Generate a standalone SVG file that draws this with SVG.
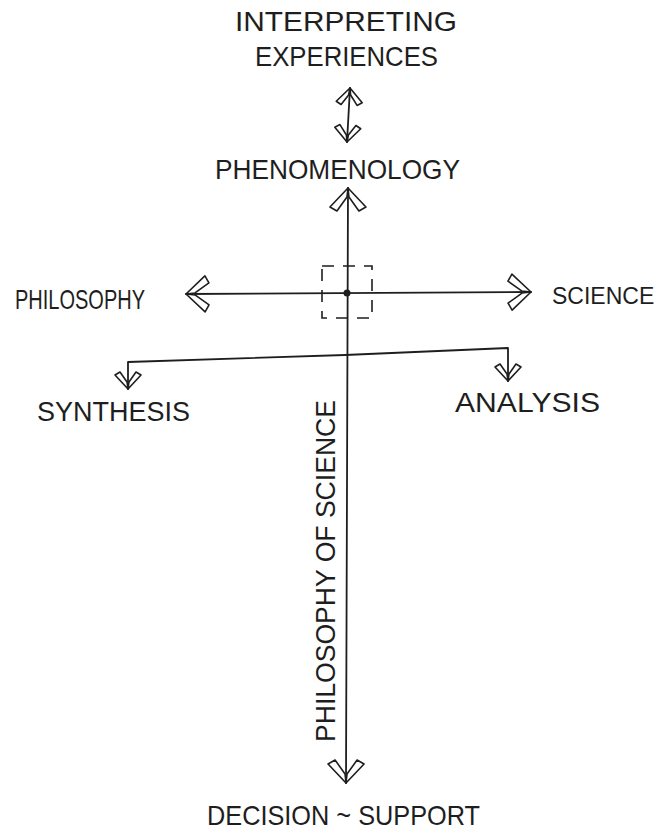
<svg xmlns="http://www.w3.org/2000/svg" width="667" height="833" viewBox="0 0 667 833">
<style>
.lbl{font-family:"Liberation Sans","DejaVu Sans",sans-serif;fill:#1e1e1e;font-size:28px}
.ln{fill:none;stroke:#1e1e1e;stroke-width:1.8;stroke-linecap:round;stroke-linejoin:round}
.ah{fill:#fff;stroke:#1e1e1e;stroke-width:1.6;stroke-linejoin:round}
</style>
<defs>
<marker id="big" markerUnits="userSpaceOnUse" viewBox="-30 -25 34 50" refX="0" refY="0" markerWidth="34" markerHeight="50" orient="auto-start-reverse" overflow="visible">
<polygon class="ah" points="0,0 -19,-18 -23,-11 -9,-1"/>
<polygon class="ah" points="0,0 -19,18 -23,11 -9,1"/>
</marker>
<marker id="small" markerUnits="userSpaceOnUse" viewBox="-30 -25 34 50" refX="0" refY="0" markerWidth="34" markerHeight="50" orient="auto-start-reverse" overflow="visible">
<polygon class="ah" points="0,0 -14,-13 -17,-8 -7,-1"/>
<polygon class="ah" points="0,0 -14,13 -17,8 -7,1"/>
</marker>
</defs>
<g id="connectors">
<path class="ln" d="M350,88 L347,142" marker-start="url(#small)" marker-end="url(#small)"/>
<path class="ln" d="M348,188 L346,783" marker-start="url(#big)" marker-end="url(#big)"/>
<path class="ln" d="M186,294 L531,292" marker-start="url(#big)" marker-end="url(#big)"/>
<path class="ln" d="M128,389 L128,362 L345,355 L508,348 L508,381" marker-start="url(#small)" marker-end="url(#small)"/>
</g>
<g id="center">
<rect x="322" y="266" width="50" height="52" fill="none" stroke="#1e1e1e" stroke-width="1.6" stroke-dasharray="12 9"/>
<circle cx="347" cy="293" r="3.5" fill="#1e1e1e"/>
</g>
<g id="interpreting-experiences">
<text class="lbl" x="235" y="31" textLength="222" lengthAdjust="spacingAndGlyphs">INTERPRETING</text>
<text class="lbl" x="255" y="66" textLength="183" lengthAdjust="spacingAndGlyphs">EXPERIENCES</text>
</g>
<g id="phenomenology">
<text class="lbl" x="215" y="179" textLength="245" lengthAdjust="spacingAndGlyphs">PHENOMENOLOGY</text>
</g>
<g id="philosophy">
<text class="lbl" x="15" y="309" textLength="130" lengthAdjust="spacingAndGlyphs">PHILOSOPHY</text>
</g>
<g id="science">
<text class="lbl" x="552" y="304" style="font-size:23px">SCIENCE</text>
</g>
<g id="synthesis">
<text class="lbl" x="37" y="421" textLength="153" lengthAdjust="spacingAndGlyphs">SYNTHESIS</text>
</g>
<g id="analysis">
<text class="lbl" x="455" y="412" textLength="145" lengthAdjust="spacingAndGlyphs">ANALYSIS</text>
</g>
<g id="philosophy-of-science">
<text class="lbl" transform="translate(335,742) rotate(-90)" x="0" y="0" textLength="342" lengthAdjust="spacingAndGlyphs">PHILOSOPHY OF SCIENCE</text>
</g>
<g id="decision-support">
<text class="lbl" x="207" y="825" textLength="273" lengthAdjust="spacingAndGlyphs">DECISION ~ SUPPORT</text>
</g>
</svg>
